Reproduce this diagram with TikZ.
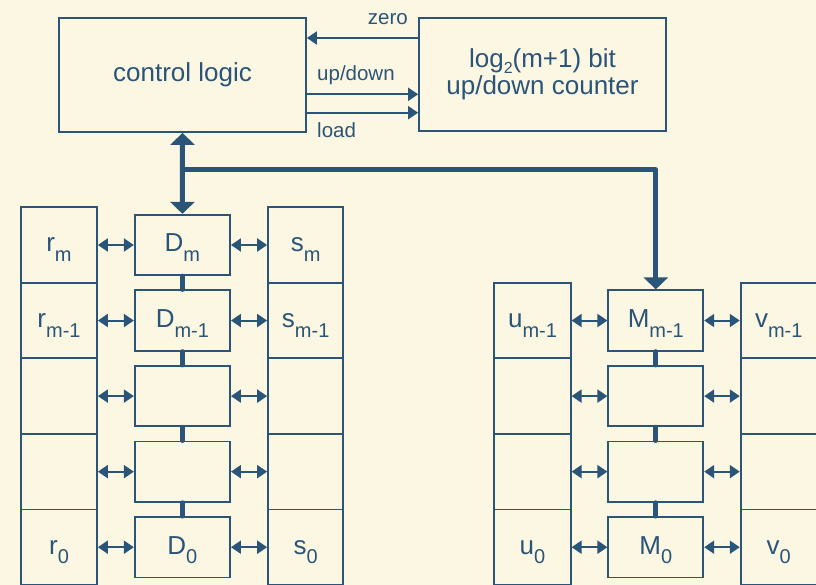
\documentclass[tikz,border=0pt]{standalone}
\usepackage{fontspec}
\setmainfont{Liberation Sans}
\usetikzlibrary{arrows.meta}
\definecolor{ink}{HTML}{2A5478}
\definecolor{paper}{HTML}{FCF7E3}
\newcommand\sbx[1]{\raisebox{-9.5pt}{\fontsize{20}{24}\selectfont #1}}
\tikzset{bigtip/.tip={Triangle[length=12pt,width=24pt]},
         smalltip/.tip={Triangle[length=10pt,width=13pt]}}
\begin{document}
\begin{tikzpicture}[x=1pt,y=-1pt,
  frame/.style={draw=ink, line width=1.8pt, rectangle, inner sep=0pt, text=ink,
    font=\fontsize{26}{27}\selectfont},
  lab/.style={frame, text height=14pt, text depth=0pt},
  cell/.style={lab, minimum width=76pt, minimum height=75.5pt},
  reg/.style={lab, minimum width=95.3pt, minimum height=60.5pt},
  sig/.style={draw=ink, line width=2pt, -{smalltip}},
  dbl/.style={draw=ink, line width=2pt, {smalltip}-{smalltip}},
  bus/.style={draw=ink, line width=5pt, line join=round},
  link/.style={draw=ink, line width=5pt, line cap=round},
  lbl/.style={text=ink, font=\fontsize{20.5}{24}\selectfont, inner sep=0pt}
]
\useasboundingbox (0,0) rectangle (816,585);
\fill[paper] (0,0) rectangle (816,585);

% top blocks
\node[lab, minimum width=247pt, minimum height=114pt] (ctrl) at (182.5,75) {control logic};
\node[frame, minimum width=247pt, minimum height=113pt, align=center] (ctr) at (542.5,74.5)
  {log{\raisebox{-5.7pt}{\fontsize{16}{18}\selectfont 2}}(m+1) bit\\up/down counter};

\coordinate (zy) at (0,38);
\coordinate (uy) at (0,94.3);
\coordinate (ly) at (0,112.7);
\draw[sig] (ctr.west |- zy) -- (ctrl.east |- zy);
\draw[sig] (ctrl.east |- uy) -- (ctr.west |- uy);
\draw[sig] (ctrl.east |- ly) -- (ctr.west |- ly);
\node[lbl, anchor=base east] (lzero) at (408,25) {zero};
\node[lbl, anchor=base west] (lud) at (317,81) {up/down};
\node[lbl, anchor=base west] (lload) at (317,137.7) {load};

% left column
\foreach \i/\rl/\dl/\sl in {0/{r\sbx{m}}/{D\sbx{m}}/{s\sbx{m}},
                           1/{r\sbx{m-1}}/{D\sbx{m-1}}/{s\sbx{m-1}},
                           2/{}/{}/{},
                           3/{}/{}/{},
                           4/{r\sbx{0}}/{D\sbx{0}}/{s\sbx{0}}}{
  \pgfmathsetmacro\yy{245+75.55*\i}
  \node[cell] (r\i) at (59,\yy) {\rl};
  \node[reg] (D\i) at (182.4,\yy) {\dl};
  \node[cell, minimum width=75.3pt] (s\i) at (305.7,\yy) {\sl};
  \draw[dbl] (r\i.east) -- (D\i.west);
  \draw[dbl] (D\i.east) -- (s\i.west);
}
\foreach \i/\j in {0/1,1/2,2/3,3/4}{
  \draw[link] (D\i.south) -- (D\j.north);
}

% right column
\foreach \i/\ul/\ml/\vl in {1/{u\sbx{m-1}}/{M\sbx{m-1}}/{v\sbx{m-1}},
                           2/{}/{}/{},
                           3/{}/{}/{},
                           4/{u\sbx{0}}/{M\sbx{0}}/{v\sbx{0}}}{
  \pgfmathsetmacro\yy{245+75.55*\i}
  \node[cell, minimum width=76.4pt] (u\i) at (532.5,\yy) {\ul};
  \node[reg, minimum width=95pt] (M\i) at (655.8,\yy) {\ml};
  \node[cell, minimum width=76.3pt] (v\i) at (778.8,\yy) {\vl};
  \draw[dbl] (u\i.east) -- (M\i.west);
  \draw[dbl] (M\i.east) -- (v\i.west);
}
\foreach \i/\j in {1/2,2/3,3/4}{
  \draw[link] (M\i.south) -- (M\j.north);
}

% bus
\coordinate (busy) at (0,170);
\draw[bus, {bigtip}-{bigtip}] (ctrl.south) -- (D0.north);
\draw[bus, -{bigtip}] (ctrl.south |- busy) -| (M1.north);
\end{tikzpicture}
\end{document}
